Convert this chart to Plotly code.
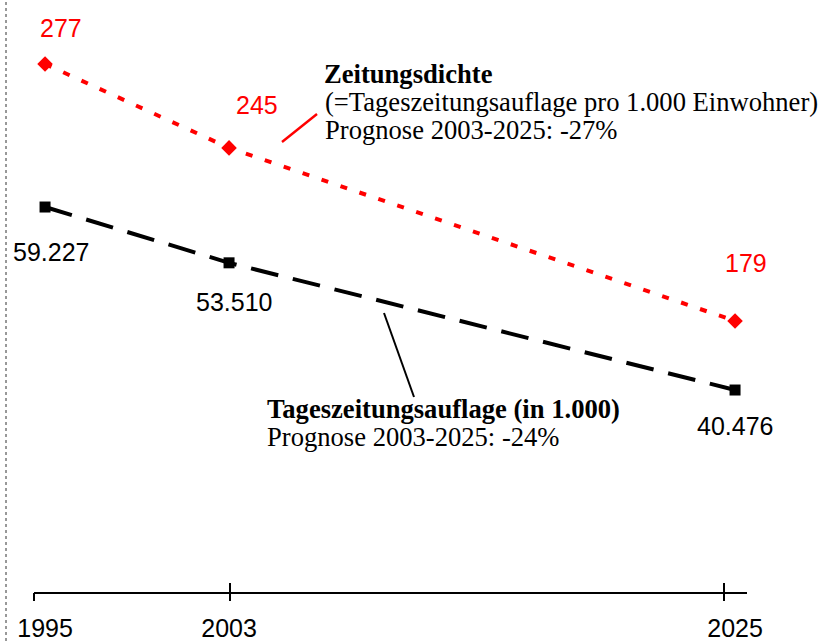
import plotly.graph_objects as go

# ---- data ----
YEARS = [1995, 2003, 2025]
TICK_LABELS = ["1995", "2003", "2025"]
DICHTE = [277, 245, 179]                 # Zeitungsdichte (per 1.000 Einwohner)
DICHTE_LABELS = ["277", "245", "179"]
AUFLAGE = [59.227, 53.510, 40.476]       # Tageszeitungsauflage (in 1.000)
AUFLAGE_LABELS = ["59.227", "53.510", "40.476"]
TICK_MARK_YEARS = [1994.52, 2003.04, 2024.52]  # where the drawn axis ticks sit

RED = "#ff0000"
SANS = "Liberation Sans, Arial, sans-serif"
SERIF = "Liberation Serif, Times New Roman, serif"

fig = go.Figure()

fig.add_trace(go.Scatter(
    x=YEARS, y=AUFLAGE, mode="lines+markers", yaxis="y", xaxis="x",
    line=dict(color="black", width=4, dash="28px,15px"),
    marker=dict(symbol="square", size=11, color="black"),
    cliponaxis=False, showlegend=False, hoverinfo="skip"))

fig.add_trace(go.Scatter(
    x=YEARS, y=DICHTE, mode="lines+markers", yaxis="y2", xaxis="x",
    line=dict(color=RED, width=4, dash="7px,13px"),
    marker=dict(symbol="diamond", size=12, color=RED),
    cliponaxis=False, showlegend=False, hoverinfo="skip"))

annotations = []
red_shifts = [(16, 36), (28, 43), (11, 58)]
for x, y, t, (dx, dy) in zip(YEARS, DICHTE, DICHTE_LABELS, red_shifts):
    annotations.append(dict(x=x, y=y, xref="x", yref="y2", text=t, showarrow=False,
                            xshift=dx, yshift=dy, xanchor="center", yanchor="middle",
                            font=dict(family=SANS, size=25, color=RED)))
blk_shifts = [(6, -45), (5, -39), (0, -36)]
for x, y, t, (dx, dy) in zip(YEARS, AUFLAGE, AUFLAGE_LABELS, blk_shifts):
    annotations.append(dict(x=x, y=y, xref="x", yref="y", text=t, showarrow=False,
                            xshift=dx, yshift=dy, xanchor="center", yanchor="middle",
                            font=dict(family=SANS, size=25, color="black")))

W, H = 821, 641
ML, MR, MT, MB = 34, 74, 0, 49
PW, PH = W - ML - MR, H - MT - MB


def px(xp):
    return (xp - ML) / PW


def py(yp):
    return (H - MB - yp) / PH


callouts = [
    ("<b>Zeitungsdichte</b>", 322, 74),
    ("(=Tageszeitungsauflage pro 1.000 Einwohner)", 323, 102),
    ("Prognose 2003-2025: -27%", 323, 130),
    ("<b>Tageszeitungsauflage (in 1.000)</b>", 265, 409),
    ("Prognose 2003-2025: -24%", 265, 437),
]
for t, xp, yp in callouts:
    annotations.append(dict(x=px(xp), y=py(yp), xref="paper", yref="paper", text=t,
                            showarrow=False, xanchor="left", yanchor="middle",
                            font=dict(family=SERIF, size=26.6, color="black")))

shapes = [
    dict(type="line", xref="paper", yref="paper", x0=px(282), y0=py(142), x1=px(317), y1=py(114),
         line=dict(color=RED, width=2.5)),
    dict(type="line", xref="paper", yref="paper", x0=px(384), y0=py(313), x1=px(414), y1=py(397),
         line=dict(color="black", width=2)),
    dict(type="line", xref="paper", yref="paper", x0=px(6), y0=py(H), x1=px(6), y1=1,
         line=dict(color="#333333", width=1, dash="dot")),
]

XRANGE = [1994.52, 2025.52]

fig.update_layout(
    width=W, height=H, template="none",
    margin=dict(l=ML, r=MR, t=MT, b=MB, pad=0),
    paper_bgcolor="white", plot_bgcolor="white",
    xaxis=dict(range=XRANGE, tickvals=YEARS, ticktext=TICK_LABELS, ticks="",
               showline=True, linecolor="black", linewidth=2, showgrid=False, zeroline=False,
               tickfont=dict(family=SANS, size=25, color="black"), ticklabelstandoff=13,
               automargin=False, fixedrange=True),
    xaxis2=dict(range=XRANGE, overlaying="x", tickvals=TICK_MARK_YEARS, ticks="outside",
                ticklen=8, tickwidth=2, tickcolor="black", showticklabels=False,
                showline=False, showgrid=False, zeroline=False, side="bottom", automargin=False),
    xaxis3=dict(range=XRANGE, overlaying="x", tickvals=TICK_MARK_YEARS, ticks="inside",
                ticklen=9, tickwidth=2, tickcolor="black", showticklabels=False,
                showline=False, showgrid=False, zeroline=False, side="bottom", automargin=False),
    yaxis=dict(range=[19.78, 80.44], visible=False, fixedrange=True),
    yaxis2=dict(range=[75.63, 301.41], overlaying="y", visible=False, fixedrange=True),
    annotations=annotations, shapes=shapes,
)

# dummy traces to activate tick axes
fig.add_trace(go.Scatter(x=[None], y=[None], xaxis="x2", yaxis="y", showlegend=False, hoverinfo="skip"))
fig.add_trace(go.Scatter(x=[None], y=[None], xaxis="x3", yaxis="y", showlegend=False, hoverinfo="skip"))

fig.write_html("out.html", config={"displayModeBar": False},
               post_script="document.body.style.margin='0';document.body.style.overflow='hidden';")
